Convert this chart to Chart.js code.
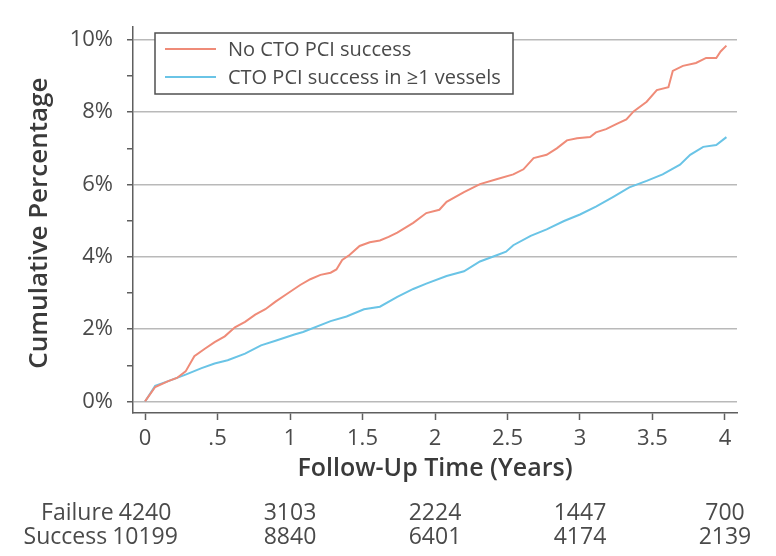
<!DOCTYPE html>
<html>
<head>
<meta charset="utf-8">
<title>Cumulative Percentage by CTO PCI Outcome</title>
<script src="https://cdn.jsdelivr.net/npm/chart.js@4/dist/chart.umd.min.js"></script>
<style>
  html, body { margin: 0; padding: 0; background: #ffffff; }
  #wrap { width: 776px; height: 556px; position: relative; }
</style>
</head>
<body>
<div id="wrap"><canvas id="chart" width="776" height="556"></canvas></div>
<script>
// Kaplan-Meier style cumulative event curves (follow-up in years, percent)
const failureYears = [0, 0.07, 0.16, 0.22, 0.28, 0.34, 0.41, 0.48, 0.55, 0.62, 0.69, 0.76, 0.83, 0.90, 0.97,
  1.07, 1.14, 1.21, 1.28, 1.32, 1.36, 1.41, 1.48, 1.55, 1.62, 1.68, 1.74, 1.85, 1.94,
  2.03, 2.08, 2.20, 2.31, 2.43, 2.54, 2.61, 2.68, 2.77, 2.84, 2.91, 2.98,
  3.07, 3.11, 3.18, 3.25, 3.32, 3.37, 3.46, 3.53, 3.61, 3.64, 3.71, 3.80, 3.87, 3.94, 3.97, 4.01];
const failurePct = [0, 0.40, 0.56, 0.65, 0.83, 1.25, 1.45, 1.64, 1.80, 2.05, 2.20, 2.40, 2.55, 2.76, 2.95,
  3.22, 3.38, 3.50, 3.56, 3.65, 3.91, 4.05, 4.30, 4.40, 4.45, 4.55, 4.67, 4.94, 5.21,
  5.30, 5.52, 5.79, 6.01, 6.15, 6.28, 6.42, 6.73, 6.82, 7.00, 7.22, 7.28,
  7.31, 7.44, 7.53, 7.67, 7.80, 8.02, 8.29, 8.61, 8.69, 9.14, 9.28, 9.36, 9.50, 9.50, 9.68, 9.84];

const successYears = [0, 0.07, 0.16, 0.28, 0.39, 0.48, 0.57, 0.69, 0.80, 0.90, 1.03, 1.09, 1.28, 1.39,
  1.51, 1.62, 1.74, 1.85, 1.94, 2.08, 2.20, 2.31, 2.43, 2.49, 2.54, 2.66, 2.77, 2.89,
  3.00, 3.11, 3.23, 3.34, 3.46, 3.57, 3.69, 3.76, 3.85, 3.94, 4.01];
const successPct = [0, 0.43, 0.56, 0.74, 0.92, 1.05, 1.14, 1.32, 1.55, 1.68, 1.85, 1.92, 2.22, 2.35,
  2.55, 2.62, 2.89, 3.11, 3.26, 3.47, 3.60, 3.87, 4.05, 4.14, 4.32, 4.58, 4.76, 4.99,
  5.17, 5.39, 5.66, 5.92, 6.10, 6.28, 6.55, 6.82, 7.04, 7.09, 7.31];

const seriesNames = ['No CTO PCI success', 'CTO PCI success in \u22651 vessels'];

// Axis ticks
const xTickValues = [0, 0.5, 1, 1.5, 2, 2.5, 3, 3.5, 4];
const xTickLabels = ['0', '.5', '1', '1.5', '2', '2.5', '3', '3.5', '4'];
const yTickValues = [0, 1, 2, 3, 4, 5, 6, 7, 8, 9, 10];

// Numbers at risk
const riskYears = [0, 1, 2, 3, 4];
const riskRowNames = ['Failure', 'Success'];
const riskFailure = [4240, 3103, 2224, 1447, 700];
const riskSuccess = [10199, 8840, 6401, 4174, 2139];

const RED = '#ef8b78';
const BLUE = '#6ac4e6';
const AXIS = '#5f5f5f';
const GRID = '#b9b9b9';
const TEXT = '#4a4a4a';
const FONT = "'Open Sans', 'Noto Sans', sans-serif";

const toPoints = (xs, ys) => xs.map((x, i) => ({ x: x, y: ys[i] }));

// Legend box, axis titles and the numbers-at-risk table
const annotations = {
  id: 'annotations',
  afterDatasetsDraw(chart) {
    const ctx = chart.ctx;
    const xs = chart.scales.x;
    const area = chart.chartArea;
    ctx.save();

    // legend
    const lx = 155, ly = 33, lw = 358, lh = 61;
    ctx.fillStyle = '#ffffff';
    ctx.fillRect(lx, ly, lw, lh);
    ctx.strokeStyle = '#505050';
    ctx.lineWidth = 1.5;
    ctx.strokeRect(lx, ly, lw, lh);
    const colors = [RED, BLUE];
    const rows = [49, 77];
    ctx.font = '20px ' + FONT;
    ctx.textBaseline = 'middle';
    ctx.textAlign = 'left';
    rows.forEach((ry, i) => {
      ctx.strokeStyle = colors[i];
      ctx.lineWidth = 2;
      ctx.beginPath();
      ctx.moveTo(165, ry);
      ctx.lineTo(216, ry);
      ctx.stroke();
      ctx.fillStyle = TEXT;
      ctx.fillText(seriesNames[i], 228, ry + 1);
    });

    // x axis title
    ctx.fillStyle = '#3a3a3a';
    ctx.font = '600 25px ' + FONT;
    ctx.textAlign = 'center';
    ctx.textBaseline = 'middle';
    ctx.fillText('Follow-Up Time (Years)', (area.left + area.right) / 2, 469);

    // y axis title
    ctx.save();
    ctx.translate(40, (area.top + area.bottom) / 2 + 3);
    ctx.rotate(-Math.PI / 2);
    ctx.font = '600 26px ' + FONT;
    ctx.fillText('Cumulative Percentage', 0, 0);
    ctx.restore();

    // numbers at risk
    ctx.font = '23px ' + FONT;
    ctx.fillStyle = TEXT;
    const riskRows = [riskFailure, riskSuccess];
    const rowY = [513, 537];
    riskRows.forEach((vals, r) => {
      vals.forEach((v, i) => {
        ctx.textAlign = 'center';
        ctx.fillText(String(v), xs.getPixelForValue(riskYears[i]), rowY[r]);
      });
      const firstW = ctx.measureText(String(vals[0])).width;
      ctx.textAlign = 'right';
      ctx.fillText(riskRowNames[r], xs.getPixelForValue(riskYears[0]) - firstW / 2 - 5, rowY[r]);
    });

    ctx.restore();
  }
};

new Chart(document.getElementById('chart'), {
  type: 'line',
  data: {
    datasets: [
      { label: seriesNames[0], data: toPoints(failureYears, failurePct), borderColor: RED, borderWidth: 2 },
      { label: seriesNames[1], data: toPoints(successYears, successPct), borderColor: BLUE, borderWidth: 2 }
    ]
  },
  options: {
    responsive: false,
    animation: false,
    layout: { padding: { left: 0, right: 39, top: 15, bottom: 0 } },
    elements: { point: { radius: 0 }, line: { tension: 0, fill: false } },
    plugins: { legend: { display: false }, tooltip: { enabled: false } },
    scales: {
      x: {
        type: 'linear',
        min: -0.083,
        max: 4.083,
        afterBuildTicks: s => { s.ticks = xTickValues.map(v => ({ value: v })); },
        afterFit: s => { s.height = 143; },
        ticks: {
          autoSkip: false,
          maxRotation: 0,
          padding: 6,
          color: TEXT,
          font: { family: FONT, size: 22 },
          callback: v => xTickLabels[xTickValues.indexOf(v)]
        },
        grid: { drawOnChartArea: false, tickLength: 7, tickColor: AXIS, tickWidth: 1.5 },
        border: { color: AXIS, width: 1.5 }
      },
      y: {
        type: 'linear',
        min: -0.32,
        max: 10.35,
        afterBuildTicks: s => { s.ticks = yTickValues.map(v => ({ value: v })); },
        afterFit: s => { s.width = 133; },
        ticks: {
          padding: 14,
          color: TEXT,
          font: { family: FONT, size: 22 },
          callback: v => (v % 2 === 0 ? v + '%' : '')
        },
        grid: {
          color: c => (c.tick && c.tick.value % 2 === 0 ? GRID : 'rgba(0,0,0,0)'),
          lineWidth: 1.5,
          tickLength: 6,
          tickColor: AXIS,
          tickWidth: 1.5
        },
        border: { color: AXIS, width: 1.5 }
      }
    }
  },
  plugins: [annotations]
});
</script>
</body>
</html>
